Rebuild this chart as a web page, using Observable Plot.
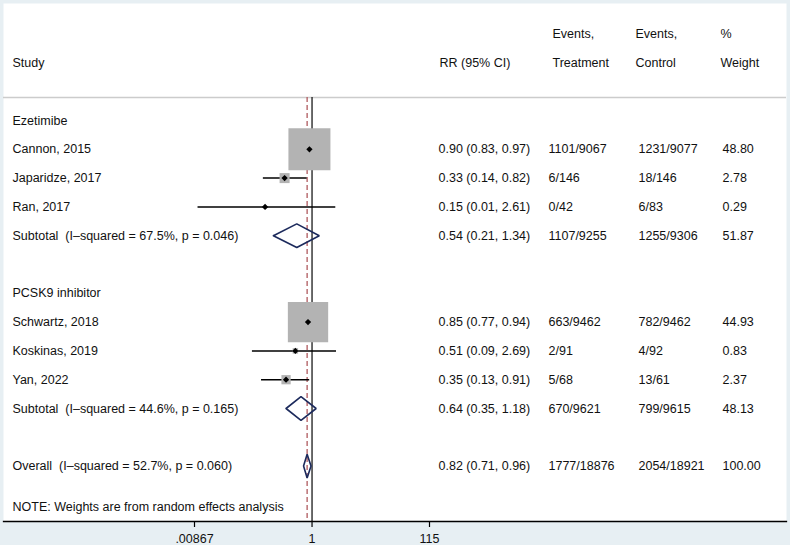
<!DOCTYPE html>
<html>
<head>
<meta charset="utf-8">
<script src="https://cdn.jsdelivr.net/npm/d3@7"></script>
<script src="https://cdn.jsdelivr.net/npm/@observablehq/plot@0.6"></script>
<style>
  body { margin: 0; background: #fff; }
  svg { display: block; }
</style>
</head>
<body>
<div id="chart"></div>
<script>
// ---------- data ----------
const groups = ["Ezetimibe", "PCSK9 inhibitor"];
const studyNames = ["Cannon, 2015", "Japaridze, 2017", "Ran, 2017", "Schwartz, 2018", "Koskinas, 2019", "Yan, 2022"];
const studyGroup = [0, 0, 0, 1, 1, 1];
const studyRR = [0.90, 0.33, 0.15, 0.85, 0.51, 0.35];
const studyLo = [0.83, 0.14, 0.01, 0.77, 0.09, 0.13];
const studyHi = [0.97, 0.82, 2.61, 0.94, 2.69, 0.91];
const studyEvT = ["1101/9067", "6/146", "0/42", "663/9462", "2/91", "5/68"];
const studyEvC = ["1231/9077", "18/146", "6/83", "782/9462", "4/92", "13/61"];
const studyWeight = [48.80, 2.78, 0.29, 44.93, 0.83, 2.37];

const pooledLabels = ["Subtotal  (I\u2013squared = 67.5%, p = 0.046)", "Subtotal  (I\u2013squared = 44.6%, p = 0.165)", "Overall  (I\u2013squared = 52.7%, p = 0.060)"];
const pooledRR = [0.54, 0.64, 0.82];
const pooledLo = [0.21, 0.35, 0.71];
const pooledHi = [1.34, 1.18, 0.96];
const pooledEvT = ["1107/9255", "670/9621", "1777/18876"];
const pooledEvC = ["1255/9306", "799/9615", "2054/18921"];
const pooledWeight = [51.87, 48.13, 100.00];

const headerLine1 = {study: "", rr: "", t: "Events,", c: "Events,", w: "%"};
const headerLine2 = {study: "Study", rr: "RR (95% CI)", t: "Treatment", c: "Control", w: "Weight"};
const note = "NOTE: Weights are from random effects analysis";

const tickValues = [0.00867, 1, 115];
const tickLabels = [".00867", "1", "115"];

// ---------- layout table built from the arrays ----------
const f2 = v => v.toFixed(2);
const rows = [];
const studyRows = [];
const pooledRows = [];
let r = 0;
groups.forEach((g, gi) => {
  rows.push({row: r, study: g, rr: "", t: "", c: "", w: ""});
  r++;
  studyNames.forEach((s, i) => {
    if (studyGroup[i] !== gi) return;
    const d = {row: r, study: s, est: studyRR[i], lo: studyLo[i], hi: studyHi[i],
      rr: `${f2(studyRR[i])} (${f2(studyLo[i])}, ${f2(studyHi[i])})`,
      t: studyEvT[i], c: studyEvC[i], w: f2(studyWeight[i]), weight: studyWeight[i]};
    rows.push(d); studyRows.push(d);
    r++;
  });
  const d = {row: r, study: pooledLabels[gi], est: pooledRR[gi], lo: pooledLo[gi], hi: pooledHi[gi],
    rr: `${f2(pooledRR[gi])} (${f2(pooledLo[gi])}, ${f2(pooledHi[gi])})`,
    t: pooledEvT[gi], c: pooledEvC[gi], w: f2(pooledWeight[gi])};
  rows.push(d); pooledRows.push(d);
  r += 2;
});
{
  const k = 2;
  const d = {row: r, study: pooledLabels[k], est: pooledRR[k], lo: pooledLo[k], hi: pooledHi[k],
    rr: `${f2(pooledRR[k])} (${f2(pooledLo[k])}, ${f2(pooledHi[k])})`,
    t: pooledEvT[k], c: pooledEvC[k], w: f2(pooledWeight[k])};
  rows.push(d); pooledRows.push(d);
}
const header = [{row: -3, ...headerLine1}, {row: -2, ...headerLine2}];

const H = 0.41; // diamond half-height in row units
const diamondPts = pooledRows.flatMap((d, i) => [
  {id: i, x: d.lo, y: d.row},
  {id: i, x: d.est, y: d.row - H},
  {id: i, x: d.hi, y: d.row},
  {id: i, x: d.est, y: d.row + H},
  {id: i, x: d.lo, y: d.row}
]);
const overall = pooledRows[pooledRows.length - 1];

const FONT = "Liberation Sans, Arial, Helvetica, sans-serif";
const FS = 12.5;
const textCols = [
  {key: "study", dx: 9},
  {key: "rr", dx: 435},
  {key: "t", dx: 545},
  {key: "c", dx: 635},
  {key: "w", dx: 719}
];
const headCols = [
  {key: "study", dx: 9},
  {key: "rr", dx: 436},
  {key: "t", dx: 549},
  {key: "c", dx: 632},
  {key: "w", dx: 717}
];
const textOpts = {y: "row", frameAnchor: "left", textAnchor: "start", fontSize: FS, fill: "#111"};
const ticks = tickValues.map((v, i) => ({v, label: tickLabels[i]}));

const chart = Plot.plot({
  width: 790,
  height: 548,
  marginTop: 3,
  marginLeft: 3,
  marginRight: 4,
  marginBottom: 27,
  style: {fontFamily: FONT, fontSize: FS + "px", color: "#111",
    background: "linear-gradient(to bottom, #e7eff3 545px, #ffffff 545px)"},
  x: {type: "log", domain: [0.00867, 115], range: [194, 429], label: null, axis: null},
  y: {type: "linear", domain: [-3, 13], range: [33.6, 494.4], axis: null},
  r: {type: "sqrt", domain: [0, 100], range: [0, 33.93]},
  marks: [
    Plot.frame({fill: "white", stroke: null}),
    Plot.ruleY([-0.8], {stroke: "#cccccc", strokeWidth: 1.6}),
    Plot.ruleX([1], {insetTop: 94, stroke: "#1a1a1a", strokeWidth: 1.3}),
    Plot.ruleX([overall.est], {insetTop: 94, stroke: "#b05a5e", strokeWidth: 1.3, strokeDasharray: "5,3"}),
    Plot.ruleY(studyRows, {y: "row", x1: "lo", x2: "hi", stroke: "#000", strokeWidth: 1.5}),
    Plot.dot(studyRows, {x: "est", y: "row", r: "weight", symbol: "square", fill: "#b3b3b3", stroke: null}),
    Plot.dot(studyRows, {x: "est", y: "row", r: 2.5, symbol: "square", rotate: 45, fill: "#000", stroke: null}),
    Plot.line(diamondPts, {x: "x", y: "y", z: "id", stroke: "#1c2a5c", strokeWidth: 1.6, strokeLinejoin: "miter", curve: "linear"}),
    ...textCols.map(c => Plot.text(rows, {...textOpts, text: c.key, dx: c.dx})),
    ...headCols.map(c => Plot.text(header, {...textOpts, text: c.key, dx: c.dx})),
    Plot.text([note], {text: d => d, frameAnchor: "bottom-left", dx: 9, dy: -15, textAnchor: "start", lineAnchor: "middle", fontSize: FS, fill: "#111"}),
    // x axis: ticks + labels
    Plot.tickX(ticks, {x: "v", frameAnchor: "bottom", insetTop: 518, insetBottom: -6, stroke: "#000", strokeWidth: 1.2}),
    Plot.text(ticks, {x: "v", text: "label", frameAnchor: "bottom", dy: 17, lineAnchor: "middle", fontSize: FS, fill: "#111"}),
    Plot.frame({anchor: "bottom", stroke: "#000", strokeWidth: 1.3})
  ]
});
document.getElementById("chart").append(chart);
</script>
</body>
</html>
